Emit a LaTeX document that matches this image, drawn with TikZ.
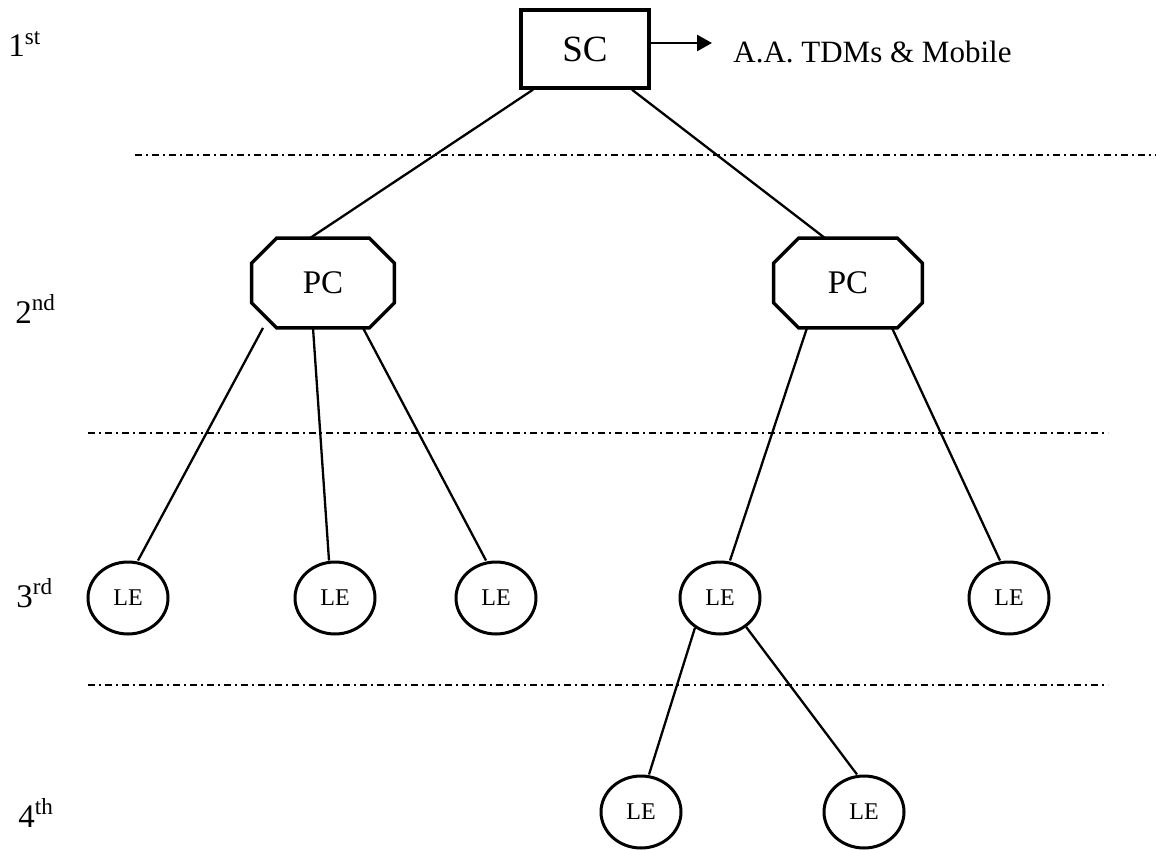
\documentclass[tikz,border=0pt]{standalone}
\usepackage{fontspec}
\setmainfont{Liberation Serif}
\usetikzlibrary{arrows.meta,shapes.geometric,calc}
\tikzset{
  px/.style={x=0.5pt,y=-0.5pt},
  conn/.style={line width=1.15pt},
  sepline/.style={line width=1pt,dash pattern=on 3.5pt off 2pt on 1pt off 2pt},
  scbox/.style={draw,line width=1.7pt,minimum width=64pt,minimum height=39pt,inner sep=0pt,font=\fontsize{18.5}{21}\selectfont},
  pcbox/.style={minimum height=44.5pt,inner sep=0pt,font=\fontsize{16.5}{19}\selectfont},
  lenode/.style={draw,ellipse,line width=1.5pt,minimum width=40pt,minimum height=36pt,inner sep=0pt,font=\fontsize{12}{14}\selectfont},
  lvl/.style={anchor=base west,inner sep=0pt,font=\fontsize{16.5}{19}\selectfont},
  octo/.style={line width=1.7pt,line join=miter}
}
\newcommand\drawocto[1]{%
  \draw[octo] ([xshift=12.5pt]#1.north west) -- ([xshift=-12.5pt]#1.north east)
    -- ([yshift=-12.5pt]#1.north east) -- ([yshift=12.5pt]#1.south east)
    -- ([xshift=-12.5pt]#1.south east) -- ([xshift=12.5pt]#1.south west)
    -- ([yshift=12.5pt]#1.south west) -- ([yshift=-12.5pt]#1.north west) -- cycle;}
\begin{document}
\begin{tikzpicture}[px]
\useasboundingbox (0,0) rectangle (1156,850);
% level labels
\node[lvl] (l1) at (8,57) {1\textsuperscript{st}};
\node[lvl] (l2) at (15,323) {2\textsuperscript{nd}};
\node[lvl] (l3) at (16,607) {3\textsuperscript{rd}};
\node[lvl] (l4) at (18,827) {4\textsuperscript{th}};
% separators
\coordinate (d1a) at (135,155); \coordinate (d1b) at (1156,155);
\coordinate (d2a) at (88,433);  \coordinate (d2b) at (1108,433);
\coordinate (d3a) at (88,685);  \coordinate (d3b) at (1108,685);
\draw[sepline] (d1a) -- (d1b);
\draw[sepline] (d2a) -- (d2b);
\draw[sepline] (d3a) -- (d3b);
% nodes
\node[scbox] (sc) at (585,49) {SC};
\node[pcbox,minimum width=71pt] (pc1) at (323,283) {PC};
\node[pcbox,minimum width=74pt] (pc2) at (848,283) {PC};
\drawocto{pc1}
\drawocto{pc2}
\node[lenode] (le1) at (128,598) {LE};
\node[lenode] (le2) at (335,598) {LE};
\node[lenode] (le3) at (496,598) {LE};
\node[lenode] (le4) at (720,598) {LE};
\node[lenode] (le5) at (1009,598) {LE};
\node[lenode] (le6) at (641,812) {LE};
\node[lenode] (le7) at (864,812) {LE};
% arrow and text
\coordinate (arr) at (712,43);
\draw[conn,line width=1.4pt,-{Triangle[length=7.5pt,width=8pt]}] ([yshift=3pt]sc.east) -- (arr);
\node[anchor=base west,inner sep=0pt,font=\fontsize{15.5}{18}\selectfont] (aa) at (733,63) {A.A. TDMs \& Mobile};
% connectors
\draw[conn] ([xshift=-26pt]sc.south) -- ([xshift=-6.5pt]pc1.north);
\draw[conn] ([xshift=23.5pt]sc.south) -- ([xshift=-11.5pt]pc2.north);
\draw[conn] ([xshift=-30pt]pc1.south) -- ([xshift=5pt]le1.north);
\draw[conn] ([xshift=-5pt]pc1.south) -- ([xshift=-3pt]le2.north);
\draw[conn] ([xshift=20pt]pc1.south) -- ([xshift=-5pt]le3.north);
\draw[conn] ([xshift=-20.5pt]pc2.south) -- ([xshift=5pt]le4.north);
\draw[conn] ([xshift=22pt]pc2.south) -- ([xshift=-4.5pt]le5.north);
\draw[conn] (le4.230) -- ([xshift=4pt]le6.north);
\draw[conn] (le4.312) -- ([xshift=-3.5pt]le7.north);
\end{tikzpicture}
\end{document}
